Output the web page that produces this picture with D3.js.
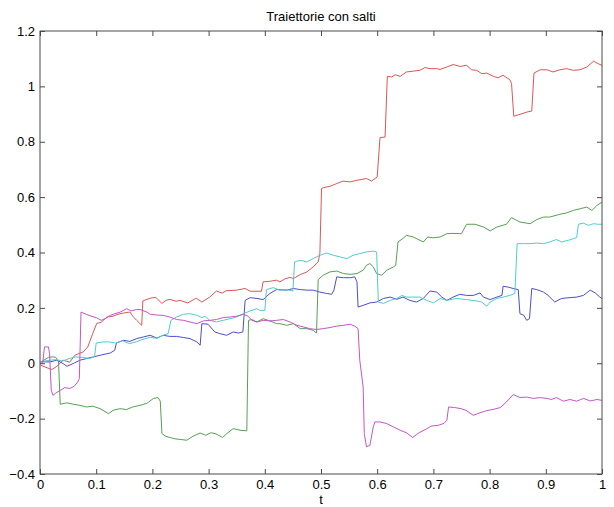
<!DOCTYPE html>
<html>
<head>
<meta charset="utf-8">
<script src="https://cdn.jsdelivr.net/npm/d3@7"></script>
<style>
  html, body { margin: 0; padding: 0; background: #fff; overflow: hidden; }
  svg { display: block; }
  text { font-family: "Liberation Sans", Arial, sans-serif; }
</style>
</head>
<body>
<svg id="chart" width="614" height="507"></svg>
<script>
const xTicks = [0, 0.1, 0.2, 0.3, 0.4, 0.5, 0.6, 0.7, 0.8, 0.9, 1];
const yTicks = [-0.4, -0.2, 0, 0.2, 0.4, 0.6, 0.8, 1, 1.2];
const seriesNames = ['red', 'green', 'blue', 'cyan', 'magenta'];
const seriesColors = ['#dc5656', '#55a055', '#4d4dcc', '#52cccc', '#c456c4'];

// [t, value] pairs
const redPath = [[0.001,-0.007],[0.021,-0.023],[0.030,-0.011],[0.041,0.011],[0.053,0.004],[0.062,0.029],[0.077,0.041],[0.085,0.059],[0.094,0.108],[0.101,0.144],[0.109,0.148],[0.119,0.167],[0.130,0.170],[0.139,0.177],[0.148,0.181],[0.160,0.185],[0.165,0.170],[0.172,0.155],[0.181,0.137],[0.183,0.225],[0.196,0.235],[0.206,0.238],[0.217,0.216],[0.224,0.227],[0.231,0.231],[0.242,0.224],[0.249,0.227],[0.263,0.218],[0.278,0.235],[0.288,0.221],[0.302,0.239],[0.314,0.261],[0.324,0.253],[0.331,0.262],[0.350,0.264],[0.365,0.270],[0.374,0.260],[0.394,0.260],[0.397,0.294],[0.409,0.296],[0.421,0.300],[0.427,0.294],[0.436,0.305],[0.445,0.310],[0.451,0.306],[0.463,0.320],[0.475,0.330],[0.486,0.348],[0.495,0.366],[0.498,0.397],[0.501,0.631],[0.504,0.634],[0.516,0.639],[0.528,0.649],[0.539,0.658],[0.552,0.655],[0.564,0.661],[0.581,0.667],[0.590,0.658],[0.600,0.673],[0.605,0.815],[0.614,0.817],[0.618,1.036],[0.626,1.034],[0.632,1.042],[0.641,1.036],[0.652,1.052],[0.664,1.055],[0.676,1.058],[0.685,1.068],[0.694,1.064],[0.706,1.064],[0.712,1.061],[0.724,1.070],[0.735,1.079],[0.747,1.072],[0.759,1.076],[0.768,1.060],[0.777,1.058],[0.786,1.046],[0.795,1.048],[0.807,1.036],[0.815,1.031],[0.824,1.040],[0.836,1.024],[0.839,1.010],[0.843,0.892],[0.854,0.899],[0.866,0.907],[0.875,0.911],[0.879,1.048],[0.890,1.060],[0.902,1.060],[0.913,1.052],[0.925,1.060],[0.937,1.064],[0.949,1.058],[0.961,1.060],[0.973,1.070],[0.985,1.091],[0.993,1.082],[1.0,1.076]];

const greenPath = [[0.001,0.004],[0.015,0.021],[0.023,0.023],[0.028,0.021],[0.033,0.005],[0.036,-0.148],[0.048,-0.143],[0.059,-0.148],[0.071,-0.152],[0.083,-0.158],[0.094,-0.155],[0.107,-0.164],[0.122,-0.182],[0.130,-0.170],[0.142,-0.164],[0.154,-0.167],[0.165,-0.158],[0.178,-0.152],[0.190,-0.145],[0.202,-0.127],[0.210,-0.124],[0.214,-0.137],[0.217,-0.254],[0.224,-0.264],[0.231,-0.268],[0.240,-0.273],[0.249,-0.275],[0.261,-0.278],[0.272,-0.264],[0.285,-0.252],[0.295,-0.260],[0.304,-0.251],[0.313,-0.255],[0.325,-0.268],[0.333,-0.253],[0.344,-0.236],[0.356,-0.242],[0.368,-0.244],[0.371,0.155],[0.377,0.158],[0.386,0.149],[0.397,0.161],[0.409,0.153],[0.421,0.143],[0.427,0.143],[0.439,0.137],[0.451,0.143],[0.463,0.125],[0.475,0.125],[0.486,0.119],[0.492,0.109],[0.495,0.302],[0.504,0.318],[0.516,0.330],[0.528,0.333],[0.540,0.324],[0.552,0.321],[0.564,0.324],[0.575,0.336],[0.581,0.354],[0.587,0.360],[0.593,0.348],[0.599,0.324],[0.608,0.318],[0.617,0.336],[0.629,0.348],[0.633,0.354],[0.637,0.438],[0.646,0.451],[0.652,0.462],[0.664,0.456],[0.671,0.449],[0.682,0.438],[0.690,0.456],[0.700,0.453],[0.712,0.456],[0.724,0.468],[0.733,0.469],[0.750,0.468],[0.759,0.502],[0.774,0.502],[0.789,0.492],[0.801,0.478],[0.813,0.492],[0.830,0.502],[0.839,0.526],[0.854,0.510],[0.872,0.504],[0.884,0.519],[0.896,0.528],[0.907,0.528],[0.925,0.538],[0.937,0.543],[0.949,0.552],[0.961,0.558],[0.973,0.564],[0.982,0.552],[0.991,0.570],[1.0,0.582]];

const bluePath = [[0.001,0.005],[0.018,0.005],[0.030,0.011],[0.041,-0.001],[0.048,-0.011],[0.059,-0.001],[0.071,0.011],[0.083,0.017],[0.095,0.023],[0.107,0.029],[0.125,0.037],[0.133,0.047],[0.136,0.073],[0.148,0.083],[0.160,0.079],[0.172,0.089],[0.184,0.095],[0.196,0.101],[0.208,0.091],[0.219,0.101],[0.231,0.097],[0.243,0.097],[0.255,0.093],[0.267,0.089],[0.279,0.077],[0.285,0.065],[0.288,0.143],[0.299,0.141],[0.311,0.113],[0.320,0.107],[0.332,0.101],[0.344,0.113],[0.353,0.109],[0.361,0.113],[0.365,0.227],[0.374,0.237],[0.386,0.234],[0.397,0.230],[0.409,0.252],[0.421,0.266],[0.439,0.264],[0.451,0.270],[0.463,0.266],[0.475,0.264],[0.486,0.264],[0.498,0.257],[0.510,0.252],[0.519,0.249],[0.523,0.264],[0.528,0.312],[0.540,0.309],[0.552,0.309],[0.560,0.312],[0.564,0.294],[0.566,0.203],[0.575,0.209],[0.587,0.218],[0.599,0.221],[0.611,0.234],[0.623,0.239],[0.635,0.231],[0.646,0.239],[0.658,0.227],[0.670,0.221],[0.682,0.234],[0.694,0.261],[0.706,0.257],[0.715,0.239],[0.724,0.227],[0.735,0.239],[0.747,0.249],[0.759,0.245],[0.771,0.245],[0.783,0.254],[0.789,0.239],[0.801,0.230],[0.813,0.239],[0.822,0.245],[0.824,0.278],[0.833,0.275],[0.842,0.270],[0.851,0.266],[0.854,0.179],[0.861,0.173],[0.866,0.155],[0.871,0.161],[0.875,0.270],[0.884,0.266],[0.896,0.257],[0.904,0.245],[0.916,0.221],[0.928,0.234],[0.943,0.237],[0.955,0.239],[0.967,0.245],[0.979,0.264],[0.988,0.254],[0.996,0.239],[1.0,0.234]];

const cyanPath = [[0.001,0.005],[0.017,0.011],[0.028,0.013],[0.040,0.008],[0.052,0.017],[0.064,0.023],[0.076,0.021],[0.088,0.017],[0.097,0.023],[0.100,0.073],[0.112,0.077],[0.123,0.077],[0.135,0.073],[0.147,0.081],[0.159,0.071],[0.171,0.077],[0.178,0.083],[0.196,0.094],[0.208,0.090],[0.219,0.101],[0.228,0.107],[0.233,0.155],[0.243,0.167],[0.255,0.177],[0.267,0.179],[0.279,0.173],[0.288,0.165],[0.294,0.170],[0.302,0.155],[0.314,0.149],[0.326,0.155],[0.338,0.161],[0.350,0.167],[0.362,0.179],[0.374,0.189],[0.386,0.197],[0.391,0.191],[0.400,0.191],[0.403,0.266],[0.415,0.273],[0.427,0.264],[0.439,0.266],[0.450,0.261],[0.453,0.366],[0.463,0.372],[0.475,0.366],[0.486,0.378],[0.498,0.390],[0.510,0.398],[0.522,0.390],[0.534,0.384],[0.546,0.378],[0.557,0.390],[0.569,0.396],[0.581,0.402],[0.593,0.405],[0.599,0.402],[0.602,0.221],[0.611,0.216],[0.623,0.227],[0.635,0.234],[0.644,0.245],[0.652,0.239],[0.664,0.239],[0.676,0.239],[0.688,0.227],[0.700,0.218],[0.712,0.234],[0.724,0.227],[0.741,0.234],[0.759,0.230],[0.777,0.225],[0.786,0.221],[0.795,0.206],[0.801,0.221],[0.813,0.234],[0.824,0.239],[0.836,0.245],[0.845,0.252],[0.849,0.432],[0.860,0.432],[0.872,0.432],[0.884,0.434],[0.896,0.432],[0.907,0.438],[0.919,0.447],[0.928,0.438],[0.940,0.444],[0.949,0.450],[0.955,0.454],[0.958,0.502],[0.967,0.506],[0.976,0.498],[0.985,0.504],[0.993,0.502],[1.0,0.502]];

const magentaPath = [[0.001,-0.001],[0.005,0.004],[0.008,0.059],[0.015,0.059],[0.017,0.036],[0.020,-0.097],[0.023,-0.116],[0.028,-0.108],[0.037,-0.097],[0.044,-0.088],[0.053,-0.091],[0.061,-0.083],[0.067,-0.068],[0.070,-0.055],[0.073,0.185],[0.082,0.177],[0.091,0.170],[0.100,0.165],[0.109,0.155],[0.117,0.162],[0.125,0.173],[0.133,0.179],[0.142,0.184],[0.154,0.197],[0.162,0.189],[0.172,0.194],[0.178,0.194],[0.190,0.185],[0.196,0.177],[0.208,0.174],[0.219,0.173],[0.231,0.167],[0.243,0.158],[0.255,0.155],[0.267,0.149],[0.279,0.143],[0.291,0.153],[0.302,0.155],[0.314,0.158],[0.326,0.165],[0.338,0.167],[0.350,0.170],[0.362,0.177],[0.370,0.170],[0.377,0.155],[0.386,0.149],[0.397,0.155],[0.409,0.153],[0.421,0.155],[0.433,0.158],[0.445,0.149],[0.457,0.137],[0.469,0.131],[0.480,0.125],[0.492,0.122],[0.504,0.125],[0.516,0.129],[0.528,0.134],[0.540,0.137],[0.552,0.141],[0.560,0.134],[0.566,0.125],[0.569,0.011],[0.575,-0.086],[0.577,-0.254],[0.581,-0.302],[0.587,-0.296],[0.593,-0.230],[0.596,-0.212],[0.605,-0.212],[0.617,-0.218],[0.629,-0.230],[0.641,-0.242],[0.652,-0.251],[0.663,-0.268],[0.676,-0.249],[0.687,-0.238],[0.696,-0.227],[0.709,-0.224],[0.719,-0.217],[0.724,-0.206],[0.727,-0.158],[0.738,-0.160],[0.749,-0.164],[0.758,-0.170],[0.771,-0.188],[0.783,-0.179],[0.795,-0.171],[0.806,-0.167],[0.819,-0.160],[0.830,-0.140],[0.842,-0.113],[0.854,-0.124],[0.866,-0.122],[0.878,-0.127],[0.890,-0.124],[0.902,-0.127],[0.910,-0.131],[0.919,-0.124],[0.931,-0.137],[0.943,-0.131],[0.955,-0.137],[0.967,-0.127],[0.979,-0.136],[0.991,-0.131],[1.0,-0.134]];

const allPaths = [redPath, greenPath, bluePath, cyanPath, magentaPath];

const svg = d3.select('#chart');
const margin = { top: 31, right: 12, bottom: 33, left: 40 };
const width = +svg.attr('width');
const height = +svg.attr('height');
const innerWidth = width - margin.left - margin.right;
const innerHeight = height - margin.top - margin.bottom;

const g = svg.append('g')
    .attr('transform', `translate(${margin.left}, ${margin.top})`);

const xScale = d3.scaleLinear().domain([0, 1]).range([0, innerWidth]);
const yScale = d3.scaleLinear().domain([-0.4, 1.2]).range([innerHeight, 0]);

const fmt = d => d === 0 ? '0' : d3.format('~g')(d);

// matlab style: ticks pointing inward, on all four sides
const tickLen = 5;
const axisColor = '#4a4a4a';

const xAxis = d3.axisBottom(xScale).tickValues(xTicks).tickFormat(fmt)
    .tickSizeInner(-tickLen).tickSizeOuter(0).tickPadding(6);
const yAxis = d3.axisLeft(yScale).tickValues(yTicks).tickFormat(fmt)
    .tickSizeInner(-tickLen).tickSizeOuter(0).tickPadding(5);
const xTop = d3.axisTop(xScale).tickValues(xTicks).tickFormat('')
    .tickSizeInner(-tickLen).tickSizeOuter(0);
const yRight = d3.axisRight(yScale).tickValues(yTicks).tickFormat('')
    .tickSizeInner(-tickLen).tickSizeOuter(0);

// lines
const line = d3.line()
    .x(d => xScale(d[0]))
    .y(d => yScale(d[1]));

const lineGroup = g.append('g').attr('id', 'lines');
lineGroup.selectAll('.traj').data(allPaths)
    .join('path')
    .attr('class', 'traj')
    .attr('fill', 'none')
    .attr('stroke', (d, i) => seriesColors[i])
    .attr('stroke-width', 1)
    .attr('stroke-linejoin', 'round')
    .attr('d', line);

const axes = [
    g.append('g').attr('transform', `translate(0, ${innerHeight})`).call(xAxis),
    g.append('g').call(yAxis),
    g.append('g').call(xTop),
    g.append('g').attr('transform', `translate(${innerWidth}, 0)`).call(yRight)
];
axes.forEach(a => {
    a.selectAll('.domain').remove();
    a.selectAll('.tick line').attr('stroke', axisColor);
    a.selectAll('.tick text').attr('fill', '#000').attr('font-size', 13);
});

g.append('rect')
    .attr('x', 0).attr('y', 0)
    .attr('width', innerWidth).attr('height', innerHeight)
    .attr('fill', 'none')
    .attr('stroke', axisColor)
    .attr('stroke-width', 1);

svg.append('text')
    .attr('x', margin.left + innerWidth / 2)
    .attr('y', margin.top - 10)
    .attr('text-anchor', 'middle')
    .attr('font-size', 13)
    .text('Traiettorie con salti');

svg.append('text')
    .attr('x', margin.left + innerWidth / 2)
    .attr('y', height - 3)
    .attr('text-anchor', 'middle')
    .attr('font-size', 13)
    .text('t');
</script>
</body>
</html>
